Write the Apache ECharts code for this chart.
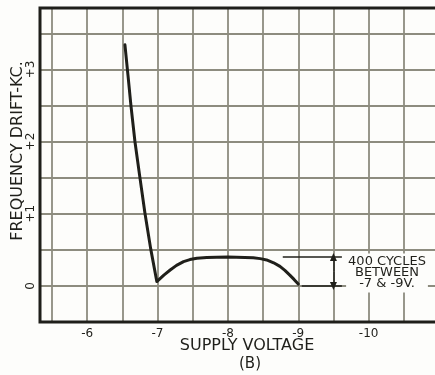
<!DOCTYPE html>
<html>
<head>
<meta charset="utf-8">
<script src="https://cdn.jsdelivr.net/npm/echarts@6/dist/echarts.min.js"></script>
<style>
  html, body { margin: 0; padding: 0; background: #fdfdfb; overflow: hidden; }
  #chart { width: 445px; height: 375px; }
</style>
</head>
<body>
<div id="chart"></div>
<script>
// Supply voltage (V) and the resulting frequency drift (kc)
const supplyVolts = [-6.537, -6.58, -6.622, -6.679, -6.75, -6.821, -6.902, -6.99,
  -7.09, -7.18, -7.27, -7.37, -7.46, -7.56, -7.70, -7.84, -8.00, -8.12,
  -8.24, -8.36, -8.46, -8.55, -8.65, -8.74, -8.81, -8.88, -8.94, -9.00];
const driftKc = [3.34, 2.92, 2.50, 2.00, 1.50, 1.01, 0.52, 0.06,
  0.15, 0.22, 0.285, 0.337, 0.365, 0.383, 0.393, 0.397, 0.400, 0.397,
  0.395, 0.390, 0.378, 0.360, 0.320, 0.270, 0.215, 0.150, 0.090, 0.025];

// Tick labels
const xTickLabels = { '-6': '-6', '-7': '-7', '-8': '-8', '-9': '-9', '-10': '-10' };
const yTickLabels = { '0': '0', '1': '+1', '2': '+2', '3': '+3' };

// Drift span marked on the right: 400 cycles between -7 and -9 V
const spanLevels = [0, 0.4];
const spanArrowVolts = -9.5;

const ink = '#1f1f1a';
const gridInk = '#8d8c7f';
const font = 'DejaVu Sans';

const chart = echarts.init(document.getElementById('chart'), null, { renderer: 'canvas' });

const pairs = supplyVolts.map((v, i) => [v, driftKc[i]]);

const gridBox = { left: 40, right: 6, top: 8, bottom: 53 };

chart.setOption({
  backgroundColor: '#fdfdfb',
  animation: false,
  grid: Object.assign({ show: false }, gridBox),
  xAxis: {
    type: 'value', inverse: true, min: -11, max: -5.33, interval: 0.5,
    axisLine: { show: false }, axisTick: { show: false },
    splitLine: { show: true, lineStyle: { color: gridInk, width: 1.8 } },
    axisLabel: {
      margin: 6, color: ink, fontFamily: font, fontSize: 12,
      showMinLabel: true, showMaxLabel: true,
      formatter: v => xTickLabels[String(Math.round(v * 100) / 100)] || ''
    }
  },
  yAxis: {
    type: 'value', min: -0.5, max: 3.85, interval: 0.5,
    axisLine: { show: false }, axisTick: { show: false },
    splitLine: { show: true, lineStyle: { color: gridInk, width: 1.8 } },
    axisLabel: {
      margin: 3, rotate: 90, color: ink, fontFamily: font, fontSize: 12,
      formatter: v => yTickLabels[String(Math.round(v * 100) / 100)] || ''
    }
  },
  series: [{
    type: 'line',
    data: pairs,
    showSymbol: false,
    lineStyle: { color: ink, width: 3, join: 'round', cap: 'round' },
    markLine: {
      silent: true,
      animation: false,
      label: { show: false },
      lineStyle: { color: ink, width: 1.5, type: 'solid' },
      data: [
        [{ coord: [-8.78, spanLevels[1]], symbol: 'none' }, { coord: [-9.62, spanLevels[1]], symbol: 'none' }],
        [{ coord: [-9.05, spanLevels[0]], symbol: 'none' }, { coord: [-9.62, spanLevels[0]], symbol: 'none' }],
        [{ coord: [spanArrowVolts, spanLevels[0] + 0.2], symbol: 'none' },
         { coord: [spanArrowVolts, spanLevels[1]], symbol: 'triangle', symbolSize: [7, 8] }],
        [{ coord: [spanArrowVolts, spanLevels[1] - 0.2], symbol: 'none' },
         { coord: [spanArrowVolts, spanLevels[0]], symbol: 'triangle', symbolSize: [7, 8] }]
      ]
    }
  }],
  graphic: [
    {
      // heavy frame round the plotting area
      type: 'rect', z: 90, silent: true,
      shape: { x: gridBox.left, y: gridBox.top, width: 445 - gridBox.left - gridBox.right, height: 375 - gridBox.top - gridBox.bottom },
      style: { fill: null, stroke: ink, lineWidth: 3 }
    },
    {
      type: 'text', x: 387, y: 273, z: 100,
      style: {
        text: '400 CYCLES\nBETWEEN\n-7 & -9V.',
        font: '13px "DejaVu Sans"', fill: ink,
        align: 'center', verticalAlign: 'middle', lineHeight: 11,
        backgroundColor: '#fdfdfb', padding: [3, 2, 3, 2]
      }
    },
    {
      type: 'text', x: 18, y: 151, rotation: Math.PI / 2,
      style: {
        text: 'FREQUENCY DRIFT-KC.', font: '16px "DejaVu Sans"', fill: ink,
        align: 'center', verticalAlign: 'middle'
      }
    },
    {
      type: 'text', x: 247, y: 346,
      style: {
        text: 'SUPPLY VOLTAGE', font: '16px "DejaVu Sans"', fill: ink,
        align: 'center', verticalAlign: 'middle'
      }
    },
    {
      type: 'text', x: 250, y: 364,
      style: {
        text: '(B)', font: '15px "DejaVu Sans"', fill: ink,
        align: 'center', verticalAlign: 'middle'
      }
    }
  ]
});
</script>
</body>
</html>
